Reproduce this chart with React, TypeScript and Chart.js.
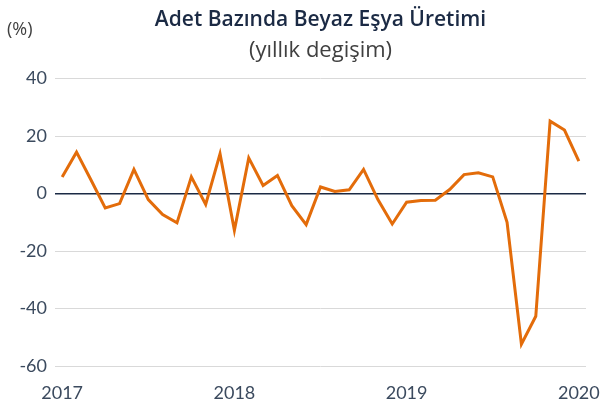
import React, { useEffect, useRef } from "react";
import { Chart, registerables } from "chart.js";

Chart.register(...registerables);

const months: string[] = [
  "2017-01","2017-02","2017-03","2017-04","2017-05","2017-06","2017-07","2017-08","2017-09","2017-10","2017-11","2017-12",
  "2018-01","2018-02","2018-03","2018-04","2018-05","2018-06","2018-07","2018-08","2018-09","2018-10","2018-11","2018-12",
  "2019-01","2019-02","2019-03","2019-04","2019-05","2019-06","2019-07","2019-08","2019-09","2019-10","2019-11","2019-12",
  "2020-01",
];

const production: number[] = [
  5.8, 14.4, 4.8, -5.0, -3.5, 8.4, -2.1, -7.3, -10.2, 5.8, -3.8, 13.8,
  -12.8, 12.4, 2.8, 6.3, -4.2, -10.8, 2.3, 0.7, 1.3, 8.4, -2.1, -10.6,
  -3.0, -2.4, -2.3, 1.4, 6.6, 7.2, 5.8, -10.0, -52.4, -42.7, 25.2, 22.1,
  11.3,
];

const yearTickLabels: string[] = ["2017", "2018", "2019", "2020"];

const titleText = "Adet Bazında Beyaz Eşya Üretimi";
const subtitleText = "(yıllık degişim)";
const unitText = "(%)";

const FONT = "Lato, 'Open Sans', sans-serif";
const TFONT = "'Open Sans', Lato, sans-serif";

const unitPlugin = {
  id: "unitLabel",
  afterDraw(chart: any) {
    const ctx = chart.ctx;
    ctx.save();
    ctx.font = `18px ${TFONT}`;
    ctx.fillStyle = "#404040";
    ctx.textAlign = "left";
    ctx.textBaseline = "middle";
    ctx.fillText(unitText, 7, 30);
    ctx.restore();
  },
};

export default function App() {
  const canvasRef = useRef<HTMLCanvasElement | null>(null);

  useEffect(() => {
    document.body.style.margin = "0";
    const canvas = canvasRef.current;
    if (!canvas) return;
    const chart = new Chart(canvas, {
      type: "line",
      data: {
        labels: months,
        datasets: [
          {
            data: production,
            borderColor: "#E36C0A",
            borderWidth: 3,
            pointRadius: 0,
            tension: 0,
            fill: false,
          },
        ],
      },
      options: {
        responsive: false,
        animation: false,
        layout: { padding: { top: 0, right: 16, bottom: 4, left: 0 } },
        plugins: {
          legend: { display: false },
          tooltip: { enabled: false },
          title: {
            display: true,
            text: titleText,
            fullSize: false,
            color: "#1B2A44",
            font: { family: TFONT, size: 21, weight: "600" },
            padding: { top: 7, bottom: 5 },
          },
          subtitle: {
            display: true,
            text: subtitleText,
            fullSize: false,
            color: "#404040",
            font: { family: TFONT, size: 22, weight: "normal" },
            padding: { top: 0, bottom: 15 },
          },
        },
        scales: {
          x: {
            offset: true,
            afterFit: (scale: any) => {
              scale.height = 37;
              scale.paddingLeft = 0;
              scale.paddingRight = 0;
            },
            grid: { display: false, drawTicks: false },
            border: { display: false },
            ticks: {
              autoSkip: false,
              maxRotation: 0,
              padding: 16,
              color: "#3B4A5E",
              font: { family: FONT, size: 18 },
              callback: (_v: any, i: number) =>
                i % 12 === 0 ? yearTickLabels[i / 12] : "",
            },
          },
          y: {
            min: -60,
            max: 40,
            afterFit: (scale: any) => {
              scale.width = 55;
            },
            border: { display: false },
            grid: {
              drawTicks: false,
              color: (c: any) => (c.tick && c.tick.value === 0 ? "#1B2A44" : "#D9D9D9"),
              lineWidth: (c: any) => (c.tick && c.tick.value === 0 ? 1.5 : 1),
            },
            ticks: {
              stepSize: 20,
              padding: 8,
              color: "#3B4A5E",
              font: { family: FONT, size: 18 },
            },
          },
        },
      },
      plugins: [unitPlugin],
    });
    return () => chart.destroy();
  }, []);

  return (
    <div style={{ width: 602, height: 407 }}>
      <canvas ref={canvasRef} width={602} height={407} />
    </div>
  );
}
